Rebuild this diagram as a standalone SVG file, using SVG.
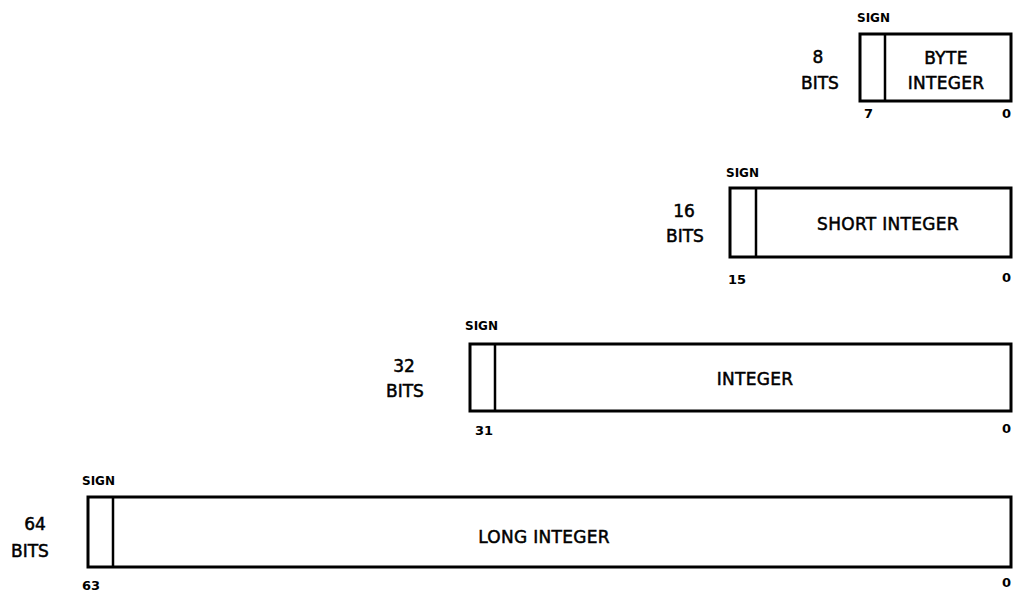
<svg xmlns="http://www.w3.org/2000/svg" width="1013" height="595" viewBox="0 0 1013 595">
<style>
.box{fill:#fff;stroke:#000;stroke-width:3}
.div{stroke:#000;stroke-width:2.5}
.lbl{font-family:"DejaVu Sans",sans-serif;font-size:17px;letter-spacing:0.3px;fill:#000;stroke:#000;stroke-width:0.5;text-anchor:middle}
.side{font-family:"DejaVu Sans",sans-serif;font-size:17px;fill:#000;stroke:#000;stroke-width:0.5;text-anchor:middle}
.sign{font-family:"DejaVu Sans",sans-serif;font-size:12px;font-weight:bold;fill:#000}
.num{font-family:"DejaVu Sans",sans-serif;font-size:13px;font-weight:bold;fill:#000}
</style>
<rect width="1013" height="595" fill="#fff"/>
<g id="byte">
<rect class="box" x="860" y="34" width="151" height="67"/>
<line class="div" x1="885" y1="34" x2="885" y2="101"/>
<text class="sign" x="857" y="22">SIGN</text>
<text class="side" x="818" y="63">8</text>
<text class="side" x="820" y="89">BITS</text>
<text class="lbl" x="946" y="64">BYTE</text>
<text class="lbl" x="946" y="89">INTEGER</text>
<text class="num" x="864" y="118">7</text>
<text class="num" x="1002" y="118">0</text>
</g>
<g id="short">
<rect class="box" x="730" y="188" width="281" height="69"/>
<line class="div" x1="756" y1="188" x2="756" y2="257"/>
<text class="sign" x="726" y="177">SIGN</text>
<text class="side" x="684" y="217">16</text>
<text class="side" x="685" y="242">BITS</text>
<text class="lbl" x="888" y="230">SHORT INTEGER</text>
<text class="num" x="728" y="284">15</text>
<text class="num" x="1002" y="282">0</text>
</g>
<g id="integer">
<rect class="box" x="470" y="344" width="541" height="67"/>
<line class="div" x1="495" y1="344" x2="495" y2="411"/>
<text class="sign" x="465" y="330">SIGN</text>
<text class="side" x="404" y="372">32</text>
<text class="side" x="405" y="397">BITS</text>
<text class="lbl" x="755" y="385">INTEGER</text>
<text class="num" x="475" y="435">31</text>
<text class="num" x="1002" y="433">0</text>
</g>
<g id="long">
<rect class="box" x="88" y="497" width="923" height="70"/>
<line class="div" x1="113" y1="497" x2="113" y2="567"/>
<text class="sign" x="82" y="485">SIGN</text>
<text class="side" x="35" y="530">64</text>
<text class="side" x="30" y="557">BITS</text>
<text class="lbl" x="544" y="543">LONG INTEGER</text>
<text class="num" x="82" y="590">63</text>
<text class="num" x="1002" y="587">0</text>
</g>
<g id="connectors"></g>
</svg>
